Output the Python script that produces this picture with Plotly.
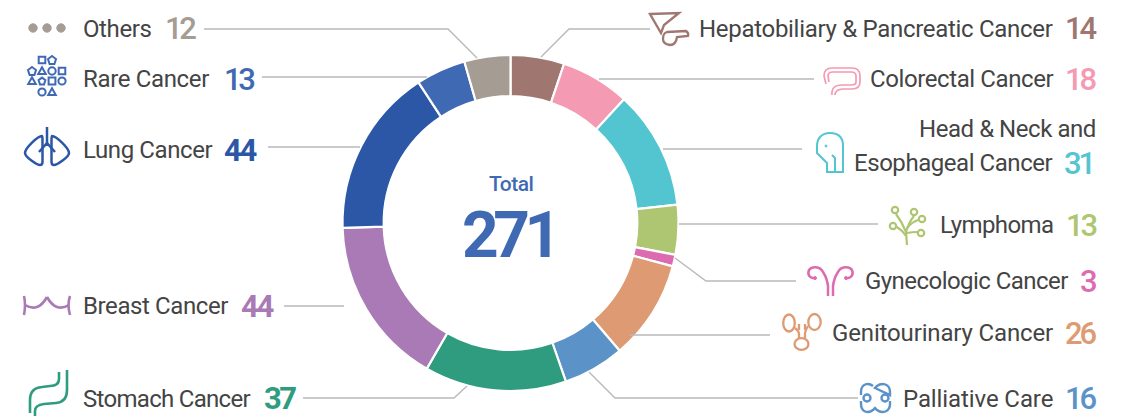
import plotly.graph_objects as go

categories = ["Hepatobiliary & Pancreatic Cancer", "Colorectal Cancer", "Head & Neck and Esophageal Cancer",
              "Lymphoma", "Gynecologic Cancer", "Genitourinary Cancer", "Palliative Care", "Stomach Cancer",
              "Breast Cancer", "Lung Cancer", "Rare Cancer", "Others"]
values = [14, 18, 31, 13, 3, 26, 16, 37, 44, 44, 13, 12]
colors = ["#a07671", "#f59ab3", "#53c5d1", "#aec572", "#dd6bb0", "#de9b73", "#5b93c9", "#2f9c80",
          "#a97ab5", "#2c56a6", "#3f6ab3", "#a59c94"]

W, H = 1130, 417
LABEL = "Roboto"
NUM = "Roboto"
TXT = "#444444"
cx0, cx1, cy0, cy1 = 342.5, 678.5, 55, 391

fig = go.Figure()
fig.add_trace(go.Scatter(x=[0], y=[0], mode="markers", marker=dict(opacity=0), showlegend=False, hoverinfo="skip"))
fig.add_trace(go.Pie(labels=categories, values=values, hole=0.755, sort=False, direction="clockwise", rotation=0,
                     marker=dict(colors=colors, line=dict(color="white", width=2.2)), textinfo="none",
                     showlegend=False, domain=dict(x=[cx0 / W, cx1 / W], y=[1 - cy1 / H, 1 - cy0 / H])))

annotations = []
def text(x, y, s, color=TXT, size=24, anchor="left", family=LABEL, spacing=-0.4, weight=400):
    annotations.append(dict(x=x, y=y, xref="x", yref="y",
                            text='<span style="letter-spacing:%gpx">%s</span>' % (spacing, s),
                            showarrow=False, xanchor=anchor, yanchor="middle",
                            font=dict(family=family, size=size, color=color, weight=weight), borderpad=0, borderwidth=0))

def num(x, y, s, color, anchor="left", size=31, spacing=-3.0, weight=500):
    text(x, y, s, color, size, anchor, NUM, spacing, weight)

left_rows = [("Others", 12, 28, 29, 165, 11, -0.4, -3.4, 500), ("Rare Cancer", 13, 79, 79, 224, 10, -0.35, -3.4, 500),
             ("Lung Cancer", 44, 150, 150, 224, 9, -0.4, -2.2, 700), ("Breast Cancer", 44, 306, 306, 241, 8, -0.4, -2.2, 700),
             ("Stomach Cancer", 37, 398, 399, 264, 7, -0.7, -2.6, 700)]
for name, v, y, ly, vx, c, sp, nsp, wt in left_rows:
    text(83, ly, name, spacing=sp)
    num(vx, y, v, colors[c], spacing=nsp, weight=wt)
right_rows = [("Hepatobiliary & Pancreatic Cancer", 14, 28, 29, 0, 1053, -0.3), ("Colorectal Cancer", 18, 79, 79, 1, 1054, -0.4),
              ("Lymphoma", 13, 225, 225, 3, 1053, -0.6), ("Gynecologic Cancer", 3, 281, 281, 4, 1068, -0.55),
              ("Genitourinary Cancer", 26, 333, 333, 5, 1053, -0.15), ("Palliative Care", 16, 398, 399, 6, 1053, -0.1)]
for name, v, y, ly, c, rx, sp in right_rows:
    text(rx, ly, name.replace("&", "&amp;"), anchor="right", spacing=sp)
    num(1096, y, v, colors[c], "right", spacing=-3.2)
text(1096, 129, "Head &amp; Neck and", anchor="right", spacing=-0.45)
text(1053, 163, "Esophageal Cancer", anchor="right", spacing=-0.45)
num(1093, 163, 31, colors[2], "right", spacing=-3.2)
text(510.5, 184, "Total", colors[10], 21, "center", weight=500, spacing=-0.5)
num(509, 235, 271, colors[10], "center", 64, -5.5, 700)

shapes = []
leaders = ["M204,29 L448,29 L477,58", "M262,77 L427,77", "M268,147 L360,147", "M284,306 L344,306",
           "M303,398 L454,398 L467,386", "M858,398 L615,398 L589,372", "M770,335 L630,335",
           "M796,281 L706,281 L675,258", "M878,224 L679,224", "M802,149 L663,149", "M814,79 L599,79",
           "M650,29 L569,29 L541,57"]
for p in leaders:
    shapes.append(dict(type="path", path=p, xref="x", yref="y", line=dict(color="#b9b9b9", width=1.4)))

def icon(paths, color, width=2.0, fill=None):
    for p in paths:
        shapes.append(dict(type="path", path=p, xref="x", yref="y", line=dict(color=color, width=width),
                           fillcolor=fill or "rgba(0,0,0,0)"))

def circle(x, y, r, ry=None):
    ry = ry or r
    k = 0.5523
    return ("M%g,%g C%g,%g %g,%g %g,%g C%g,%g %g,%g %g,%g C%g,%g %g,%g %g,%g C%g,%g %g,%g %g,%g Z" % (
        x - r, y,
        x - r, y - ry * k, x - r * k, y - ry, x, y - ry,
        x + r * k, y - ry, x + r, y - ry * k, x + r, y,
        x + r, y + ry * k, x + r * k, y + ry, x, y + ry,
        x - r * k, y + ry, x - r, y + ry * k, x - r, y))

def square(x, y, r):
    return "M%g,%g L%g,%g L%g,%g L%g,%g Z" % (x - r, y - r, x + r, y - r, x + r, y + r, x - r, y + r)

def tri(x, y, r):
    return "M%g,%g L%g,%g L%g,%g Z" % (x, y - r, x + r, y + r * .8, x - r, y + r * .8)

def pent(x, y, r):
    return "M%g,%g L%g,%g L%g,%g L%g,%g L%g,%g Z" % (x, y - r, x + r, y - r * .25, x + r * .6, y + r, x - r * .6, y + r, x - r, y - r * .25)

# Others
for x in (33, 47, 61):
    icon([circle(x, 28, 4.2)], colors[11], 1, colors[11])
# Rare
icon([square(42, 60, 3.3), pent(52, 60, 4), pent(32, 71, 4), tri(42, 71, 3.8), circle(52, 71, 3.7), square(62, 71, 3.3),
      tri(32, 81, 3.8), pent(42, 81, 3.4), square(52, 81, 3.4), circle(62, 81, 3.6), circle(42, 92, 3.6), tri(52, 92, 3.8)],
     colors[10], 2.0)
# Lung
icon(["M47,127 L47,146", "M47,143 L39,152", "M47,143 L55,152",
      "M42,136 C38,136 25,148 25,153 C25,157 37,165 40,165 C42,165 42.5,164 42.5,162 L42.5,140 Q42.5,136 42,136 Z",
      "M52,136 C56,136 69,148 69,153 C69,157 57,165 54,165 C52,165 51.5,164 51.5,162 L51.5,140 Q51.5,136 52,136 Z"],
     colors[9], 2.5)
# Breast
icon(["M24,296 Q26,305 24,315", "M25,305 Q38,313 47,297", "M47,297 Q56,313 69,305", "M70,296 Q67,305 70,315"], colors[8], 2.6)
# Stomach
icon(["M67,370 L67,390 Q67,402 56,403 L44,404 Q35,405 35,411 L35,416",
      "M59,372 L59,379 Q59,386 50,386 L42,387 Q30,388 30,400 L30,413"], colors[7], 2.6)
# Hepatobiliary
icon(["M650,14 L679,13 L664,25 L661,33 Z",
      "M667,32 L686,31 Q689,33 688,36 L677,37 Q676,45 670,45 Q663,44 663,39 Q663,33 667,32 Z"], colors[0], 2.3)
# Colorectal
icon(["M826,84 L824,76 Q824,68 832,68 L852,68 Q860,68 860,76 L860,82 Q860,89 852,89 L842,89 Q835,90 835,95",
      "M829,82 L828,76 Q828,72 833,72 L851,72 Q856,72 856,76 L856,82 Q856,85 851,85 L842,85 Q831,85 832,95"], colors[1], 1.7)
# Head
icon(["M843,172 L843,146 C843,137 838,133 830,133 C822,133 817,138 817,146 L817,153 L827,163 L827,172 Z",
      "M832,155 L835,158 L835,172"], colors[2], 2.0)
icon([circle(826, 146, 1)], colors[2], 1, colors[2])
# Lymphoma
icon(["M907,245 L906,232 Q902,222 896,214", "M906,232 Q909,222 914,216", "M907,228 Q912,222 918,220",
      "M907,233 Q912,232 917,232", "M906,236 Q902,230 897,227", circle(895, 210, 3.2), circle(914, 212, 3.2),
      circle(922, 219, 3.2), circle(921, 233, 3.2), circle(893, 226, 3.2)], colors[3], 2.2)
# Gynecologic
icon(["M828,296 L828,286 Q827,278 823,272 C820,266 812,266 809,270 C807,275 810,279 816,278",
      "M833,296 L833,286 Q834,278 838,272 C841,266 849,266 852,270 C854,275 851,279 845,278"], colors[4], 2.5)
icon([circle(815, 278, 1.6), circle(846, 278, 1.6)], colors[4], 1, colors[4])
# Genitourinary
icon([circle(789, 323, 5.8, 8.5), circle(814.5, 322, 6.2, 8), circle(801.5, 344, 7, 5.8),
      "M795,328 Q799,331 799,334 L799,338", "M808,326 Q805,331 805,334 L805,338", "M799,330 L799,324", "M805,330 L805,324"], colors[5], 2.3)
# Palliative
icon(["M873,386 C868,382 861,384 861,392 L861,395 M861,401 L861,404 C861,412 868,414 873,410 L875,408 L877,410 C882,414 890,412 890,404 L890,401 M890,395 L890,392 C890,384 882,382 877,386 L875,388 Z",
      circle(867, 398, 3.5), circle(885, 398, 3.5)], colors[6], 2.4)

fig.update_layout(width=W, height=H, margin=dict(l=0, r=0, t=0, b=0), autosize=False,
                  paper_bgcolor="white", plot_bgcolor="rgba(0,0,0,0)",
                  xaxis=dict(range=[0, W], visible=False, fixedrange=True),
                  yaxis=dict(range=[H, 0], visible=False, fixedrange=True),
                  shapes=shapes, annotations=annotations, showlegend=False)
fig.write_html("out.html", config=dict(displayModeBar=False), post_script="document.body.style.margin='0';")
